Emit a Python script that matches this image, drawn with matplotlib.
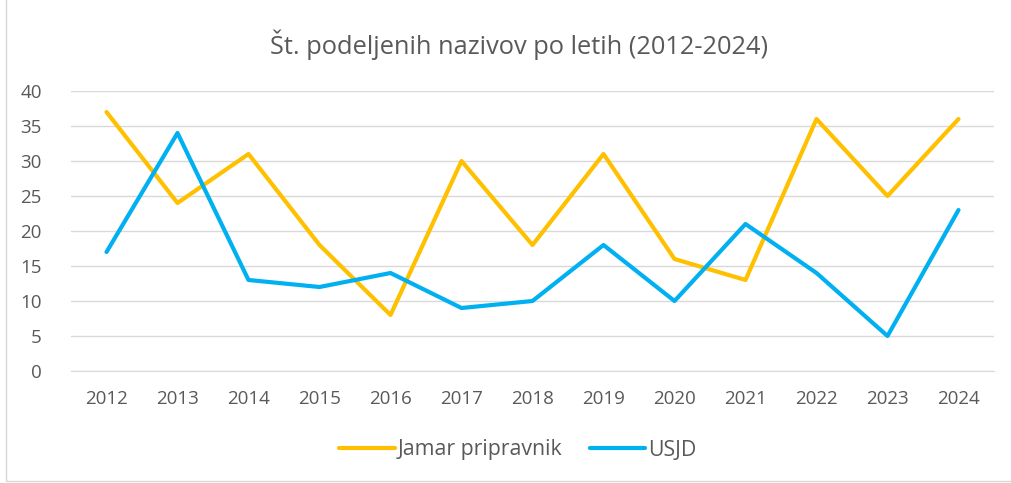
import matplotlib.pyplot as plt
import matplotlib.patches as mpatches

plt.rcParams['font.family'] = ['Open Sans', 'DejaVu Sans']

years = ['2012', '2013', '2014', '2015', '2016', '2017', '2018',
         '2019', '2020', '2021', '2022', '2023', '2024']
jamar = [37, 24, 31, 18, 8, 30, 18, 31, 16, 13, 36, 25, 36]
usjd = [17, 34, 13, 12, 14, 9, 10, 18, 10, 21, 14, 5, 23]

fig = plt.figure(figsize=(10.12, 4.83), dpi=100)
ax = fig.add_axes([71/1012, 1-371/483, (994-71)/1012, (371-91)/483])

# light chart border
fig.patches.append(mpatches.Rectangle((6/1012, 2/483), 1.2, 1.2, transform=fig.transFigure,
                                      fill=False, edgecolor='#d9d9d9', linewidth=1))

x = range(len(years))
ax.plot(x, jamar, color='#FFC000', lw=3, solid_capstyle='round', label='Jamar pripravnik')
ax.plot(x, usjd, color='#00B0F0', lw=3, solid_capstyle='round', label='USJD')

ax.set_xlim(-0.5, len(years) - 0.5)
ax.set_ylim(0, 40)
ax.set_yticks(range(0, 41, 5))
ax.set_xticks(list(x))
ax.set_xticklabels(years)
ax.grid(axis='y', color='#d9d9d9', lw=1)
ax.set_axisbelow(True)
for s in ['top', 'right', 'left']:
    ax.spines[s].set_visible(False)
ax.spines['bottom'].set_color('#d9d9d9')
ax.tick_params(length=0, labelsize=13.5, colors='#595959')
ax.tick_params(axis='x', pad=14)
ax.tick_params(axis='y', pad=21)

fig.text(519/1012, 1-45/483, 'Št. podeljenih nazivov po letih (2012-2024)', ha='center', va='center',
         fontsize=18.3, color='#595959')
fig.legend(loc='center', bbox_to_anchor=(518/1012, 1-450/483), ncol=2, frameon=False,
           fontsize=15.3, labelcolor='#595959', handlelength=2.6, handletextpad=0.15,
           columnspacing=1.3)

fig.savefig('out.png', dpi=100)
